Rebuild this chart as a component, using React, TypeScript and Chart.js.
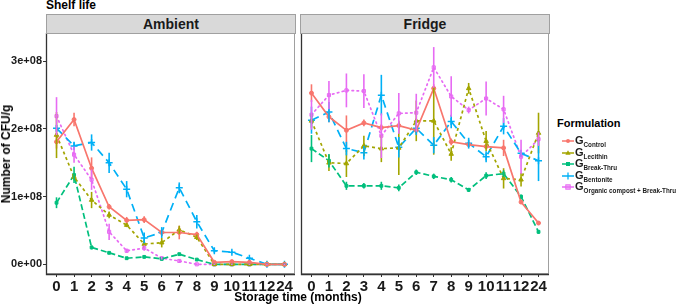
import React, { useEffect, useRef } from 'react';
import { Chart, registerables } from 'chart.js';

Chart.register(...registerables);

const FONT = '"Liberation Sans", Arial, Helvetica, sans-serif';

// Storage time categories (months)
const categories = ['0', '1', '2', '3', '4', '5', '6', '7', '8', '9', '10', '11', '12', '24'];

// y axis ticks (values in units of 1e8 CFU/g)
const yTickValues = [0, 1, 2, 3];
const yTickLabels = ['0e+00', '1e+08', '2e+08', '3e+08'];

const seriesNames = ['Control', 'Lecithin', 'Break-Thru', 'Bentonite', 'Organic compost + Break-Thru'];
const seriesColors = ['#F8766D', '#A3A500', '#00BF7D', '#00B0F6', '#E76BF3'];

// Ambient panel means (x 1e8 CFU/g)
const ambControl = [1.81, 2.14, 1.42, 0.85, 0.65, 0.66, 0.47, 0.47, 0.44, 0.03, 0.04, 0.03, 0.0, 0.0];
const ambLecithin = [1.91, 1.29, 0.95, 0.73, 0.58, 0.30, 0.32, 0.51, 0.40, 0.0, 0.0, 0.0, 0.0, 0.0];
const ambBreakThru = [0.91, 1.32, 0.25, 0.17, 0.09, 0.11, 0.08, 0.15, 0.07, 0.0, 0.0, 0.0, 0.0, 0.0];
const ambBentonite = [2.01, 1.75, 1.80, 1.50, 1.11, 0.39, 0.47, 1.13, 0.63, 0.20, 0.18, 0.09, 0.0, 0.0];
const ambOrganic = [2.19, 1.62, 1.25, 0.48, 0.20, 0.24, 0.09, 0.05, 0.0, 0.0, 0.0, 0.0, 0.0, 0.0];

// Ambient panel error half-widths
const ambControlErr = [0.10, 0.10, 0.16, 0.04, 0.05, 0.05, 0.05, 0.10, 0.04, 0.02, 0.02, 0.02, 0.01, 0.01];
const ambLecithinErr = [0.34, 0.05, 0.12, 0.05, 0.03, 0.06, 0.07, 0.06, 0.04, 0.01, 0.01, 0.01, 0.01, 0.01];
const ambBreakThruErr = [0.08, 0.12, 0.03, 0.02, 0.02, 0.02, 0.02, 0.02, 0.01, 0.01, 0.01, 0.01, 0.01, 0.01];
const ambBentoniteErr = [0.05, 0.06, 0.12, 0.15, 0.12, 0.08, 0.08, 0.08, 0.10, 0.03, 0.02, 0.02, 0.01, 0.01];
const ambOrganicErr = [0.28, 0.12, 0.15, 0.12, 0.03, 0.04, 0.02, 0.02, 0.01, 0.01, 0.01, 0.01, 0.01, 0.01];

// Fridge panel means (x 1e8 CFU/g)
const frControl = [2.53, 2.18, 1.98, 2.09, 2.02, 2.05, 1.98, 2.60, 1.81, 1.77, 1.74, 1.72, 0.92, 0.61];
const frLecithin = [2.12, 1.50, 1.49, 1.75, 1.71, 1.72, 2.12, 2.12, 1.63, 2.60, 1.82, 1.27, 1.25, 1.94];
const frBreakThru = [1.71, 1.53, 1.16, 1.16, 1.16, 1.13, 1.36, 1.30, 1.25, 1.10, 1.31, 1.34, 1.00, 0.48];
const frBentonite = [2.13, 2.25, 1.71, 1.65, 2.50, 1.73, 2.01, 1.76, 2.11, 1.79, 1.59, 2.04, 1.64, 1.53];
const frOrganic = [2.21, 2.50, 2.57, 2.56, 1.90, 2.23, 2.24, 2.91, 2.48, 2.28, 2.45, 2.29, 1.59, 1.85];

// Fridge panel error half-widths
const frControlErr = [0.13, 0.08, 0.22, 0.05, 0.05, 0.05, 0.05, 0.06, 0.05, 0.04, 0.04, 0.12, 0.03, 0.02];
const frLecithinErr = [0.10, 0.12, 0.20, 0.15, 0.20, 0.40, 0.30, 0.50, 0.10, 0.08, 0.15, 0.15, 0.10, 0.30];
const frBreakThruErr = [0.20, 0.10, 0.06, 0.04, 0.06, 0.05, 0.04, 0.04, 0.04, 0.03, 0.05, 0.05, 0.03, 0.03];
const frBentoniteErr = [0.20, 0.15, 0.10, 0.10, 0.30, 0.15, 0.10, 0.12, 0.10, 0.08, 0.08, 0.12, 0.05, 0.30];
const frOrganicErr = [0.22, 0.21, 0.25, 0.25, 0.33, 0.30, 0.28, 0.30, 0.30, 0.05, 0.25, 0.20, 0.25, 0.10];

const ambientSeries = [ambControl, ambLecithin, ambBreakThru, ambBentonite, ambOrganic];
const ambientErrors = [ambControlErr, ambLecithinErr, ambBreakThruErr, ambBentoniteErr, ambOrganicErr];
const fridgeSeries = [frControl, frLecithin, frBreakThru, frBentonite, frOrganic];
const fridgeErrors = [frControlErr, frLecithinErr, frBreakThruErr, frBentoniteErr, frOrganicErr];

const dashes = [[], [3, 3], [6, 3], [8, 5], [1.5, 3.5]];
const pointStyles = ['circle', 'triangle', 'rect', 'cross', 'rect'];
const pointRadii = [2, 2.6, 2, 3.5, 2.2];

const errorBarPlugin = {
  id: 'errorBars',
  afterDatasetsDraw(chart: any) {
    const ctx = chart.ctx;
    const xs = chart.scales.x;
    const ys = chart.scales.y;
    chart.data.datasets.forEach((ds: any) => {
      const errs = ds.errors;
      if (!errs) return;
      ctx.save();
      ctx.strokeStyle = ds.borderColor;
      ctx.lineWidth = 1.6;
      ctx.setLineDash([]);
      ds.data.forEach((pt: any, i: number) => {
        const e = errs[i];
        if (!e) return;
        const px = xs.getPixelForValue(pt.x);
        ctx.beginPath();
        ctx.moveTo(px, ys.getPixelForValue(pt.y - e));
        ctx.lineTo(px, ys.getPixelForValue(pt.y + e));
        ctx.stroke();
      });
      ctx.restore();
    });
  },
};

const framePlugin = {
  id: 'panelFrame',
  beforeDatasetsDraw(chart: any) {
    const { ctx, chartArea: a } = chart;
    ctx.save();
    ctx.strokeStyle = '#A0A0A0';
    ctx.lineWidth = 1;
    ctx.strokeRect(a.left + 0.5, a.top + 0.5, a.right - a.left - 1, a.bottom - a.top - 1);
    ctx.strokeStyle = '#333333';
    ctx.lineWidth = 1.3;
    ctx.beginPath();
    ctx.moveTo(a.left + 0.5, a.top);
    ctx.lineTo(a.left + 0.5, a.bottom + 0.5);
    ctx.lineTo(a.right, a.bottom + 0.5);
    ctx.stroke();
    ctx.restore();
  },
};

function makeConfig(series: number[][], errors: number[][], showY: boolean): any {
  return {
    type: 'line',
    data: {
      datasets: series.map((vals, k) => ({
        label: seriesNames[k],
        data: vals.map((v, i) => ({ x: i, y: v })),
        errors: errors[k],
        borderColor: seriesColors[k],
        backgroundColor: seriesColors[k],
        pointBackgroundColor: k === 4 ? 'rgba(231,107,243,0.45)' : seriesColors[k],
        pointBorderColor: seriesColors[k],
        borderWidth: 1.7,
        borderDash: dashes[k],
        borderCapStyle: k === 4 ? 'round' : 'butt',
        pointStyle: pointStyles[k],
        pointRadius: pointRadii[k],
        pointBorderWidth: k === 3 ? 1.5 : 1,
        pointHoverRadius: pointRadii[k],
        tension: 0,
        fill: false,
      })),
    },
    options: {
      responsive: false,
      animation: false,
      events: [],
      layout: { padding: { left: showY ? 0 : 4, right: 4, top: 33, bottom: 0 } },
      plugins: { legend: { display: false }, tooltip: { enabled: false }, title: { display: false } },
      scales: {
        x: {
          type: 'linear',
          min: -0.6,
          max: 13.6,
          afterBuildTicks: (s: any) => {
            s.ticks = categories.map((_, i) => ({ value: i }));
          },
          afterFit: (s: any) => {
            s.height = 32;
          },
          ticks: {
            autoSkip: false,
            maxRotation: 0,
            padding: 1,
            color: '#1A1A1A',
            font: { family: FONT, size: 15, weight: 'bold' },
            callback: (v: number) => categories[v],
          },
          grid: { display: true, drawOnChartArea: false, drawTicks: true, tickLength: 3, tickColor: '#333333', tickWidth: 1 },
          border: { display: false },
        },
        y: {
          type: 'linear',
          display: showY,
          min: -0.143,
          max: 3.418,
          afterBuildTicks: (s: any) => {
            s.ticks = yTickValues.map((v) => ({ value: v }));
          },
          afterFit: (s: any) => {
            if (showY) s.width = 46;
            else s.width = 0;
          },
          ticks: {
            padding: 1,
            color: '#1A1A1A',
            font: { family: FONT, size: 11, weight: 'bold' },
            callback: (v: number) => yTickLabels[yTickValues.indexOf(v)],
          },
          grid: { display: true, drawOnChartArea: false, drawTicks: true, tickLength: 3, tickColor: '#333333', tickWidth: 1 },
          border: { display: false },
        },
      },
    },
    plugins: [framePlugin, errorBarPlugin],
  };
}

function Panel({ series, errors, showY, left, width }: any) {
  const ref = useRef<HTMLCanvasElement | null>(null);
  useEffect(() => {
    if (!ref.current) return;
    const chart = new Chart(ref.current, makeConfig(series, errors, showY));
    return () => chart.destroy();
  }, []);
  return (
    <canvas
      ref={ref}
      width={width}
      height={306}
      style={{ position: 'absolute', left, top: 0, width, height: 306 }}
    />
  );
}

function Strip({ left, label }: { left: number; label: string }) {
  return (
    <div
      style={{
        position: 'absolute',
        left,
        top: 14,
        width: 250,
        height: 20,
        boxSizing: 'border-box',
        background: '#D9D9D9',
        border: '1px solid #A0A0A0',
        font: `bold 14px ${FONT}`,
        color: '#1A1A1A',
        textAlign: 'center',
        lineHeight: '18px',
      }}
    >
      {label}
    </div>
  );
}

function LegendKey({ k }: { k: number }) {
  const c = seriesColors[k];
  let marker: any = null;
  if (k === 0) marker = <circle cx={6} cy={5} r={2} fill={c} />;
  if (k === 1) marker = <polygon points="6,2.3 8.6,6.8 3.4,6.8" fill={c} />;
  if (k === 2) marker = <rect x={4} y={3} width={4} height={4} fill={c} />;
  if (k === 3) marker = (
    <g stroke={c} strokeWidth={1.3}>
      <line x1={6} y1={1.5} x2={6} y2={8.5} />
    </g>
  );
  if (k === 4) marker = <rect x={3.8} y={2.8} width={4.4} height={4.4} fill="rgba(231,107,243,0.5)" stroke={c} strokeWidth={1} />;
  return (
    <svg width={12} height={10} style={{ position: 'absolute', left: 0, top: 1 }}>
      <line x1={0} y1={5} x2={12} y2={5} stroke={c} strokeWidth={1.5} />
      {marker}
    </svg>
  );
}

export default function App() {
  useEffect(() => {
    document.body.style.margin = '0';
    document.body.style.background = '#FFFFFF';
  }, []);
  return (
    <div style={{ position: 'relative', width: 676, height: 306, overflow: 'hidden', background: '#FFFFFF' }}>
      <div style={{ position: 'absolute', left: 46, top: -2, font: `bold 12px ${FONT}`, color: '#000', lineHeight: '14px' }}>
        Shelf life
      </div>
      <Panel series={ambientSeries} errors={ambientErrors} showY={true} left={0} width={300} />
      <Panel series={fridgeSeries} errors={fridgeErrors} showY={false} left={296} width={258} />
      <Strip left={46} label="Ambient" />
      <Strip left={300} label="Fridge" />
      <div
        style={{
          position: 'absolute',
          left: 6,
          top: 154,
          transform: 'translate(-50%, -50%) rotate(-90deg)',
          font: `bold 12px ${FONT}`,
          color: '#000',
          whiteSpace: 'nowrap',
          lineHeight: '14px',
        }}
      >
        Number of CFU/g
      </div>
      <div
        style={{
          position: 'absolute',
          left: 298,
          top: 290,
          transform: 'translateX(-50%)',
          font: `bold 12px ${FONT}`,
          color: '#000',
          whiteSpace: 'nowrap',
          lineHeight: '14px',
        }}
      >
        Storage time (months)
      </div>
      <div style={{ position: 'absolute', left: 557, top: 117, font: `bold 11px ${FONT}`, color: '#000', lineHeight: '13px' }}>
        Formulation
      </div>
      {seriesNames.map((name, k) => (
        <div key={name} style={{ position: 'absolute', left: 562, top: 135 + k * 11.6, height: 12, width: 114, whiteSpace: 'nowrap' }}>
          <LegendKey k={k} />
          <span style={{ position: 'absolute', left: 13, top: -1, font: `bold 11px ${FONT}`, color: '#1A1A1A', lineHeight: '12px' }}>
            G
            <span style={{ font: `bold 6.3px ${FONT}`, position: 'relative', top: 3 }}>{name}</span>
          </span>
        </div>
      ))}
    </div>
  );
}
